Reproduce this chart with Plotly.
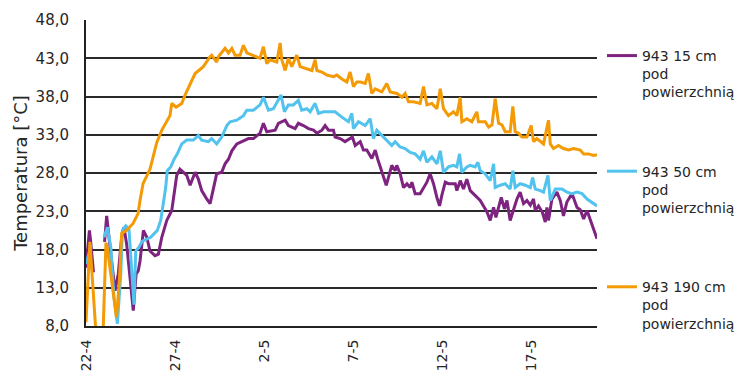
import pandas as pd
import plotly.graph_objects as go

# Soil temperature at station 943, three depths; time in days from 22-4 00:00
start = pd.Timestamp("2019-04-22")

names = ["943 15 cm<br>pod<br>powierzchnią",
         "943 50 cm<br>pod<br>powierzchnią",
         "943 190 cm<br>pod<br>powierzchnią"]
colors = ["#7E2480", "#52C2EE", "#F39A05"]

days_15 = [0, 0.19, 0.26, 0.42, 0.6, 1.04, 1.16, 1.35, 1.63, 1.81, 2.00, 2.13, 2.28, 2.47, 2.65, 2.81, 2.93,
           3.03, 3.22, 3.41, 3.59, 3.87, 4.06, 4.25, 4.53, 4.81, 4.91, 4.99, 5.09, 5.27, 5.46, 5.65,
           5.84, 6.12, 6.30, 6.49, 6.77, 6.96, 7.14, 7.33, 7.61, 7.80, 7.99, 8.18, 8.46, 8.74, 9.11,
           9.39, 9.48, 9.76, 9.95, 10.14, 10.61, 10.79, 11.17, 11.35, 11.73, 11.91, 12.19, 12.48,
           12.76, 12.95, 13.23, 13.41, 13.60, 13.88, 13.97, 14.25, 14.53, 14.94, 15.10, 15.38, 15.56,
           15.75, 16.03, 16.22, 16.35, 16.59, 16.84, 16.96, 17.15, 17.34, 17.43, 17.62, 17.81, 18.00,
           18.18, 18.28, 18.46, 18.74, 19.12, 19.30, 19.49, 19.68, 19.83, 19.96, 20.15, 20.33, 20.71,
           20.80, 20.99, 21.17, 21.36, 21.55, 21.73, 21.92, 22.11, 22.49, 22.67, 22.86, 22.99, 23.14,
           23.29, 23.47, 23.61, 23.79, 23.98, 24.17, 24.35, 24.54, 24.73, 24.92, 25.10, 25.20, 25.38,
           25.59, 25.76, 25.85, 25.94, 26.13, 26.41, 26.60, 26.78, 26.97, 27.26, 27.54, 27.72, 27.91,
           28.10, 28.38, 28.66]
temp_15 = [15.6, 20.5, 19.1, 15.0, None, 19.0, 22.4, 18.3, 12.6, 14.8, 19.6, 20.9, 18.7, 14.3, 10.0, 14.8, 15.2,
           16.5, 20.5, 19.6, 17.8, 17.2, 17.4, 19.6, 21.8, 23.1, 25.0, 26.4, 27.7, 28.5, 28.1, 27.7,
           26.4, 28.1, 27.2, 25.7, 24.6, 24.0, 25.9, 27.9, 28.1, 29.2, 29.8, 30.9, 31.8, 32.1, 32.5,
           32.5, 32.7, 33.2, 34.5, 33.4, 33.6, 34.5, 34.9, 34.2, 33.8, 34.5, 34.2, 33.8,
           33.6, 33.2, 33.6, 34.2, 33.6, 33.6, 32.7, 32.5, 32.1, 32.7, 31.6, 32.1, 31.0,
           31.0, 29.9, 31.0, 29.9, 28.1, 26.4, 27.4, 29.0, 28.3, 29.0, 27.9, 26.1, 26.6,
           26.1, 26.8, 25.3, 25.3, 26.8, 27.9, 26.6, 24.8, 23.7, 25.1, 26.8, 26.6, 26.6,
           25.7, 27.0, 25.9, 27.2, 25.7, 25.3, 24.8, 24.4, 22.9, 21.8, 23.5, 22.2, 23.5,
           24.8, 23.3, 24.4, 21.8, 23.3, 24.6, 25.5, 24.0, 24.4, 23.8, 24.6, 23.1, 23.7,
           22.9, 21.6, 23.5, 21.8, 24.6, 25.5, 24.4, 22.4, 24.2, 25.3, 23.5, 23.2, 22.0,
           23.1, 21.1, 19.4]

days_50 = [0, 0.22, 0.3, 0.6, 1.01, 1.20, 1.39, 1.57, 1.76, 1.95, 2.04, 2.23, 2.41, 2.51, 2.69, 2.79, 2.97,
           3.16, 3.63, 4.00, 4.19, 4.47, 4.56, 4.75, 4.94, 5.12, 5.37, 5.65, 6.02, 6.30, 6.49, 6.86,
           7.05, 7.33, 7.61, 7.90, 8.08, 8.46, 8.83, 9.02, 9.39, 9.76, 9.95, 10.23, 10.51, 10.94,
           11.13, 11.35, 11.63, 11.91, 12.10, 12.39, 12.57, 12.85, 13.04, 13.32, 13.97, 14.35, 14.72,
           14.91, 15.00, 15.28, 15.66, 15.94, 16.12, 16.31, 16.59, 16.87, 17.15, 17.34, 17.62, 17.90,
           18.18, 18.46, 18.74, 18.93, 19.12, 19.40, 19.68, 19.87, 20.05, 20.33, 20.61, 20.80, 20.95,
           21.08, 21.36, 21.55, 21.83, 21.98, 22.11, 22.39, 22.67, 22.86, 22.95, 23.23, 23.51, 23.79,
           23.94, 24.07, 24.35, 24.64, 24.92, 25.05, 25.20, 25.48, 25.66, 25.91, 26.04, 26.32, 26.69,
           26.97, 27.26, 27.54, 27.82, 28.10, 28.38, 28.66]
temp_50 = [16.1, 18.2, 18.6, None, 19.6, 20.9, 18.3, 11.7, 8.3, 14.8, 20.5, 21.1, 20.7, 17.0, 10.8, 17.8, 18.3,
           19.1, 19.6, 20.5, 21.8, 26.1, 28.3, 28.8, 29.8, 30.5, 31.8, 32.3, 32.3, 32.9, 32.3, 32.1,
           32.5, 31.8, 32.7, 34.2, 34.7, 34.9, 35.5, 36.2, 36.2, 36.9, 37.9, 36.2, 36.4, 38.2,
           36.0, 36.9, 36.9, 37.5, 36.2, 36.4, 36.0, 37.1, 35.8, 36.0, 36.0, 35.3, 34.7,
           35.8, 33.8, 34.7, 34.2, 35.1, 32.5, 33.6, 32.9, 32.3, 31.6, 32.1, 31.4, 31.2,
           30.7, 30.5, 29.8, 30.9, 29.4, 30.1, 29.2, 30.9, 28.1, 28.8, 29.0, 28.8, 30.5,
           28.1, 28.8, 29.0, 28.8, 29.4, 28.3, 27.9, 27.0, 29.2, 26.1, 26.4, 26.6, 25.9,
           28.3, 26.1, 26.6, 26.4, 26.1, 27.4, 25.9, 25.7, 25.5, 27.7, 24.4, 25.9, 25.9,
           25.5, 25.3, 25.5, 25.3, 24.6, 24.2, 23.7]

days_190 = [0, 0.22, 0.76, 0.86, 1.12, 1.21, 1.71, 1.87, 2.00, 2.28, 2.64, 2.92, 3.03, 3.20, 3.59, 3.97,
            4.25, 4.71, 4.81, 5.05, 5.37, 5.56, 6.12, 6.58, 6.96, 7.05, 7.33, 7.42, 7.80, 7.99, 8.18,
            8.36, 8.64, 8.83, 9.02, 9.39, 9.76, 9.95, 10.14, 10.33, 10.70, 10.89, 10.98, 11.17, 11.35,
            11.54, 11.82, 12.01, 12.29, 12.67, 12.85, 12.95, 13.23, 13.51, 13.88, 14.07, 14.35, 14.63,
            14.81, 15.00, 15.19, 15.38, 15.66, 15.84, 16.03, 16.22, 16.59, 16.87, 17.06, 17.44, 17.72,
            17.90, 18.09, 18.37, 18.74, 18.93, 19.12, 19.40, 19.68, 19.87, 20.05, 20.33, 20.61, 20.80,
            20.99, 21.08, 21.36, 21.64, 21.92, 22.01, 22.39, 22.58, 22.77, 22.95, 23.14, 23.33, 23.51,
            23.79, 23.94, 24.07, 24.26, 24.45, 24.73, 24.97, 25.10, 25.29, 25.66, 25.94, 26.04, 26.22,
            26.50, 26.78, 27.07, 27.35, 27.72, 27.91, 28.19, 28.47, 28.66]
temp_190 = [8.5, 19.0, 0.0, 0.0, 18.9, 18.0, 9.1, 13.9, 20.1, 20.5, 21.4, 22.7, 24.4, 26.6, 28.5, 32.0,
            33.6, 35.5, 37.1, 36.6, 37.1, 38.2, 41.0, 41.9, 43.2, 43.4, 42.5, 43.2, 44.3, 43.7, 44.3,
            43.4, 43.4, 44.7, 43.7, 43.4, 43.0, 44.5, 42.3, 42.8, 42.5, 45.0, 42.8, 41.4, 43.0,
            41.9, 43.4, 41.9, 41.7, 41.4, 42.8, 41.4, 41.2, 40.8, 40.6, 40.8, 40.3, 39.9,
            41.2, 39.3, 39.9, 39.9, 39.7, 41.0, 38.4, 39.0, 38.6, 39.7, 38.6, 38.4, 37.9,
            38.4, 37.3, 37.3, 37.1, 39.3, 36.9, 37.1, 36.4, 39.0, 36.4, 35.5, 36.0, 35.5,
            37.9, 34.7, 35.1, 34.7, 36.0, 34.7, 34.7, 34.0, 34.3, 37.7, 34.5, 34.3, 33.4,
            33.4, 36.7, 33.4, 33.2, 32.7, 32.7, 34.2, 32.1, 32.5, 31.8, 34.9, 31.8, 31.2,
            31.6, 31.2, 31.0, 31.2, 31.0, 30.5, 30.5, 30.3, 30.4]

y_ticks = [8, 13, 18, 23, 28, 33, 38, 43, 48]


def to_time(days):
    return start + pd.to_timedelta(days, unit="D")


fig = go.Figure()
for i, (d, t) in enumerate([(days_15, temp_15), (days_50, temp_50), (days_190, temp_190)]):
    fig.add_trace(go.Scatter(
        x=to_time(d), y=t, mode="lines", name=names[i], legendgroup=str(i),
        line=dict(color=colors[i], width=3), connectgaps=False,
    ))

x_end = to_time([max(days_190)])[0]

fig.update_layout(
    width=745, height=372,
    margin=dict(l=86, r=148, t=20, b=46),
    paper_bgcolor="white", plot_bgcolor="white",
    separators=", ",
    font=dict(family="DejaVu Sans", size=15, color="#262626"),
    showlegend=True,
    legend=dict(
        xref="container", yref="container",
        x=0.808, xanchor="left", y=0.8925, yanchor="top",
        valign="top", tracegroupgap=58, itemwidth=30, maxheight=372,
        font=dict(size=14, color="#262626"), bgcolor="rgba(0,0,0,0)",
    ),
    xaxis=dict(
        type="date", range=[start, x_end], automargin=False,
        tick0=start, dtick=5 * 86400000, tickformat="%-d-%-m",
        tickangle=-90, showgrid=False, showline=True, linecolor="#222", linewidth=2,
        ticks="", tickfont=dict(size=14), zeroline=False, ticklabelstandoff=6,
    ),
    yaxis=dict(
        range=[8, 48], tickvals=y_ticks, tickformat=".1f", automargin=False,
        showgrid=True, gridcolor="#2a2a2a", gridwidth=1.6,
        showline=True, linecolor="#222", linewidth=2, ticks="", zeroline=False,
        ticklabelstandoff=12,
        title=dict(text="Temperatura [°C]", standoff=3),
        tickfont=dict(size=15),
    ),
)

fig.write_html("out.html")
